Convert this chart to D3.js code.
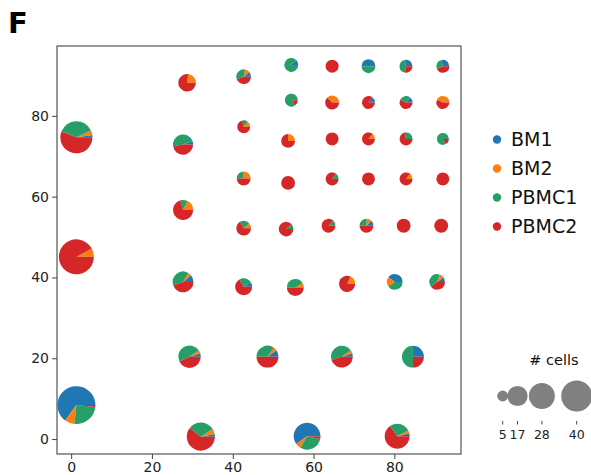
<!DOCTYPE html>
<html>
<head>
<meta charset="utf-8">
<script src="https://cdn.jsdelivr.net/npm/d3@7"></script>
<style>
  html, body { margin: 0; padding: 0; background: #fff; }
  svg { display: block; font-family: "DejaVu Sans", sans-serif; }
</style>
</head>
<body>
<svg id="chart" width="591" height="475"></svg>
<script>
// Cell-type composition per cluster, drawn as pies at cluster positions.
const celltypes = ["BM1", "BM2", "PBMC1", "PBMC2"];
const palette = ["#1f77b4", "#ff7f0e", "#279e68", "#d62728"];
const xTicks = [0, 20, 40, 60, 80];
const yTicks = [0, 20, 40, 60, 80];
const sizeLegend = [5, 17, 28, 40];

// cluster centres
const posX = [1.3, 1.3, 1.3, 27.7, 28.7, 27.7, 27.7, 29.3, 48.6, 67.0, 84.6, 32.1, 58.4, 80.7,
  42.7, 55.5, 68.3, 80.1, 90.6, 42.7, 53.2, 63.7, 73.1, 82.3, 91.6,
  42.7, 53.7, 64.6, 73.6, 82.9, 92.0, 42.7, 53.7, 64.6, 73.6, 82.9, 92.0,
  54.5, 64.6, 73.6, 82.9, 92.0, 42.7, 54.5, 64.6, 73.6, 82.9, 92.0];
const posY = [8.4, 45.1, 74.7, 72.9, 88.2, 56.7, 38.9, 20.4, 20.4, 20.4, 20.4, 0.6, 0.7, 0.7,
  37.7, 37.5, 38.4, 38.9, 38.9, 52.2, 52.0, 52.8, 52.8, 52.8, 52.8,
  64.5, 63.4, 64.4, 64.4, 64.4, 64.4, 77.3, 73.8, 74.3, 74.3, 74.3, 74.3,
  83.9, 83.3, 83.3, 83.3, 83.3, 89.7, 92.6, 92.3, 92.3, 92.3, 92.3];

// cell counts per cluster for each sample
const bm1 = [39, 0, 1, 1, 0, 0, 2, 1, 2, 1, 5, 1, 18, 1,
  1, 0, 0, 4, 1, 0, 0, 0, 1, 0, 0,
  0, 0, 0, 0, 0, 0, 0, 0, 0, 0, 0, 0,
  0, 0, 1, 1, 0, 1, 1, 0, 4, 2, 2];
const bm2 = [5, 4, 2, 0, 3, 3, 1, 1, 1, 1, 0, 2, 2, 1,
  0, 1, 2, 2, 1, 1, 0, 0, 1, 0, 0,
  2, 0, 0, 0, 1, 0, 1, 2, 0, 1, 0, 0,
  0, 3, 0, 0, 3, 1, 0, 0, 0, 0, 0];
const pbmc1 = [15, 0, 16, 8, 0, 2, 7, 10, 7, 9, 10, 10, 9, 7,
  3, 5, 0, 4, 4, 2, 1, 1, 2, 0, 0,
  2, 0, 1, 0, 0, 0, 1, 0, 0, 0, 2, 5,
  6, 0, 0, 2, 0, 3, 7, 0, 4, 3, 2];
const pbmc2 = [1, 47, 24, 8, 10, 12, 8, 9, 10, 9, 5, 20, 1, 17,
  8, 6, 9, 0, 4, 6, 8, 7, 4, 8, 8,
  4, 8, 6, 7, 6, 7, 5, 6, 7, 6, 5, 1,
  1, 5, 6, 4, 4, 4, 0, 7, 0, 2, 3];

const svg = d3.select("#chart");
const x = d3.scaleLinear().domain([-3.5, 96.5]).range([57, 461]);
const y = d3.scaleLinear().domain([-3.7, 97.3]).range([454, 46]);
const r = d3.scaleSqrt().domain([0, 40]).range([0, 15.5]);

// panel letter
svg.append("text").attr("x", 8).attr("y", 33)
  .attr("font-size", 29).attr("font-weight", "bold").attr("fill", "#000").text("F");

// axes
const xAxis = svg.append("g").attr("transform", `translate(0,454)`)
  .call(d3.axisBottom(x).tickValues(xTicks).tickSize(5).tickPadding(3));
const yAxis = svg.append("g").attr("transform", `translate(57,0)`)
  .call(d3.axisLeft(y).tickValues(yTicks).tickSize(5).tickPadding(3));
[xAxis, yAxis].forEach(g => {
  g.select(".domain").remove();
  g.selectAll(".tick line").attr("stroke", "#444").attr("stroke-width", 1);
  g.selectAll(".tick text").attr("font-size", 14).attr("fill", "#222")
    .attr("font-family", "DejaVu Sans");
});

// frame
svg.append("rect").attr("x", x.range()[0]).attr("y", y.range()[1])
  .attr("width", x.range()[1] - x.range()[0]).attr("height", y.range()[0] - y.range()[1])
  .attr("fill", "none").attr("stroke", "#444").attr("stroke-width", 1.1);

// pies: wedges start at 3 o'clock and run counter-clockwise
const pie = d3.pie().sort(null).startAngle(Math.PI / 2).endAngle(Math.PI / 2 - 2 * Math.PI);
const clusters = posX.map((px, i) => ({
  x: px, y: posY[i],
  counts: [bm1[i], bm2[i], pbmc1[i], pbmc2[i]]
}));
clusters.forEach(c => {
  const total = d3.sum(c.counts);
  const arc = d3.arc().innerRadius(0).outerRadius(r(total));
  svg.append("g")
    .attr("transform", `translate(${x(c.x)},${y(c.y)})`)
    .selectAll("path")
    .data(pie(c.counts).map((d, k) => Object.assign(d, { k })).filter(d => d.value > 0))
    .join("path")
    .attr("d", arc)
    .attr("fill", d => palette[d.k]);
});

// sample legend
const leg = svg.append("g");
celltypes.forEach((name, i) => {
  const cy = 139.5 + i * 29;
  leg.append("circle").attr("cx", 497).attr("cy", cy).attr("r", 4.2).attr("fill", palette[i]);
  leg.append("text").attr("x", 511).attr("y", cy).attr("dy", "0.36em")
    .attr("font-size", 19).attr("fill", "#111").text(name);
});

// size legend: circle area proportional to cell count
const cum = d3.cumsum(sizeLegend);
const lx = d3.scaleLinear().domain([sizeLegend[0], cum[cum.length - 1]]).range([502.7, 576.7]);
svg.append("text").attr("x", 554).attr("y", 365).attr("text-anchor", "middle")
  .attr("font-size", 14.5).attr("fill", "#111").text("# cells");
sizeLegend.forEach((n, i) => {
  const cx = lx(cum[i]);
  svg.append("circle").attr("cx", cx).attr("cy", 396).attr("r", r(n)).attr("fill", "#808080");
  svg.append("line").attr("x1", cx).attr("x2", cx).attr("y1", 421).attr("y2", 424.5)
    .attr("stroke", "#444").attr("stroke-width", 1);
  svg.append("text").attr("x", cx).attr("y", 439).attr("text-anchor", "middle")
    .attr("font-size", 12.5).attr("fill", "#222").text(n);
});
</script>
</body>
</html>
